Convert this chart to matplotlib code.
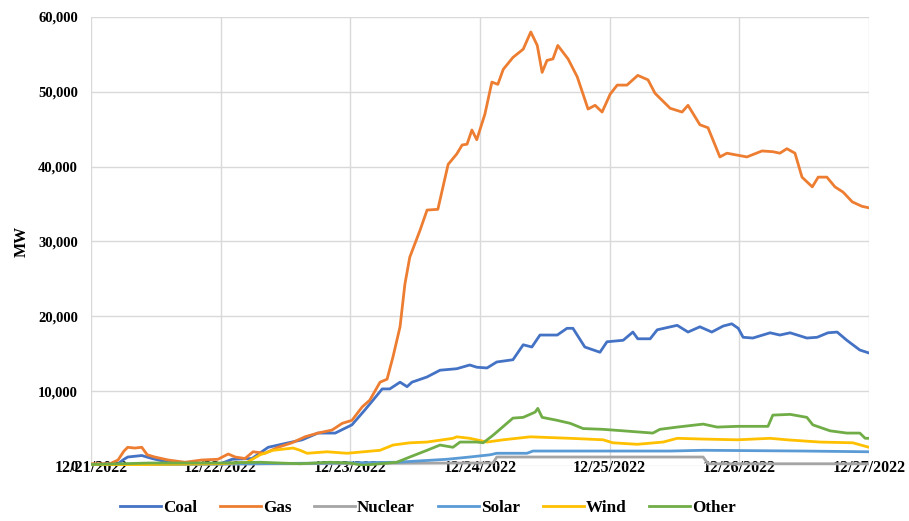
import matplotlib
matplotlib.use("Agg")
import matplotlib.pyplot as plt
from matplotlib.ticker import FuncFormatter

plt.rcParams['font.family'] = ['Liberation Serif', 'DejaVu Serif']

# hours since 12/21/2022 00:00
gas_h = [0, 3.5, 5.0, 6.1, 6.8, 8.1, 9.4, 10.4, 11.8, 14.3, 17.4, 20.5, 23.5, 25.4, 26.7, 28.5,
         30.0, 32.2, 34.6, 37.2, 39.6, 42.0, 44.6, 46.5, 48.3, 50.2, 51.6, 53.5, 54.8, 55.9,
         57.2, 58.1, 59.0, 60.9, 62.2, 64.2, 66.1, 67.7, 68.7, 69.6, 70.5, 71.4, 72.9, 74.2,
         75.3, 76.3, 78.1, 80.0, 81.4, 82.6, 83.5, 84.4, 85.5, 86.4, 88.3, 90.0, 92.0, 93.3,
         94.6, 96.1, 97.4, 99.2, 101.2, 103.1, 104.4, 107.2, 109.4, 110.5, 112.7, 114.2, 116.4,
         117.7, 121.4, 124.2, 126.2, 127.5, 128.8, 130.3, 131.6, 133.5, 134.6, 136.2, 137.7,
         139.2, 140.9, 142.7, 144]
gas = [300, 300, 800, 2000, 2500, 2400, 2500, 1500, 1200, 800, 500, 800, 900, 1600, 1200, 1000,
       1900, 1700, 2500, 3100, 3900, 4400, 4800, 5700, 6100, 7900, 8800, 11200, 11600, 14600,
       18600, 24300, 27900, 31500, 34200, 34300, 40300, 41700, 42900, 43000, 44900, 43600, 47000, 51300,
       51000, 53000, 54600, 55700, 58000, 56200, 52600, 54200, 54400, 56200, 54400, 52000, 47700, 48200,
       47300, 49700, 50900, 50900, 52200, 51600, 49800, 47800, 47300, 48200, 45600, 45200, 41300,
       41800, 41300, 42100, 42000, 41800, 42400, 41800, 38600, 37300, 38600, 38600, 37300,
       36600, 35300, 34700, 34500]

coal_h = [0, 5.0, 6.1, 6.8, 9.4, 11.3, 14.3, 17.4, 24, 26.1, 29.8, 32.8, 35.9, 39.1, 42.0, 45.2,
          48.3, 50.7, 52.2, 53.9, 55.3, 57.2, 58.5, 59.4, 62.2, 64.6, 67.7, 70.1, 71.4, 73.3,
          75.1, 78.1, 80.0, 81.6, 83.1, 86.3, 88.1, 89.2, 91.4, 94.2, 95.5, 98.5, 100.3, 101.2,
          103.5, 104.8, 108.5, 110.5, 112.7, 114.9, 117.0, 118.6, 119.8, 120.7, 122.5, 125.7,
          127.5, 129.4, 132.5, 134.4, 136.4, 138.1, 139.9, 142.3, 144]
coal = [200, 300, 900, 1200, 1400, 1000, 500, 300, 300, 900, 1000, 2500, 3000, 3500, 4400, 4400,
        5500, 7500, 8800, 10300, 10300, 11200, 10600, 11200, 11900, 12800, 13000, 13500, 13200, 13100,
        13900, 14200, 16200, 15900, 17500, 17500, 18400, 18400, 15900, 15200, 16600, 16800, 17900, 17000,
        17000, 18200, 18800, 17900, 18600, 17900, 18700, 19000, 18400, 17200, 17100, 17800,
        17500, 17800, 17100, 17200, 17800, 17900, 16800, 15500, 15100]

nuclear_h = [0, 70.1, 74.4, 75.1, 113.3, 114.2, 144]
nuclear = [200, 400, 400, 1200, 1200, 300, 300]

solar_h = [0, 44.2, 56.6, 65.9, 70.1, 73.9, 75.1, 80.7, 81.8, 107.2, 113.3, 131.8, 144]
solar = [100, 400, 500, 900, 1200, 1500, 1700, 1700, 2000, 2000, 2100, 2000, 1900]

wind_h = [0, 3.5, 10.9, 24, 28.9, 31.3, 33.7, 37.4, 38.7, 40.0, 43.7, 47.4, 53.5, 55.9, 59.0,
          62.2, 67.0, 67.7, 70.1, 73.3, 76.3, 81.3, 88.7, 94.8, 96.6, 101.1, 105.9, 108.5,
          113.3, 119.6, 125.7, 128.8, 134.9, 141.0, 144]
wind = [0, 100, 200, 300, 500, 1500, 2100, 2400, 2100, 1700, 1900, 1700, 2100, 2800, 3100,
        3200, 3700, 3900, 3700, 3200, 3500, 3900, 3700, 3500, 3100, 2900, 3200, 3700,
        3600, 3500, 3700, 3500, 3200, 3100, 2500]

other_h = [0, 10.9, 24, 31.3, 38.7, 44.2, 47.9, 50.3, 56.6, 59.0, 62.2, 64.6, 67.0, 68.3, 71.4,
           72.6, 74.4, 78.1, 80.0, 82.2, 82.7, 83.5, 86.3, 88.7, 91.1, 94.8, 98.5, 104.0, 105.3,
           108.5, 113.3, 115.9, 119.6, 125.3, 126.2, 129.4, 132.5, 133.6, 136.8, 139.9, 142.3,
           143.3, 144]
other = [200, 400, 400, 500, 300, 500, 400, 100, 500, 1200, 2100, 2800, 2500, 3200, 3200,
         3100, 4100, 6400, 6500, 7200, 7700, 6500, 6100, 5700, 5000, 4900, 4700, 4400, 4900,
         5200, 5600, 5200, 5300, 5300, 6800, 6900, 6500, 5500, 4700, 4400, 4400,
         3700, 3700]

tick_labels = ['12/21/2022', '12/22/2022', '12/23/2022', '12/24/2022',
               '12/25/2022', '12/26/2022', '12/27/2022']

series = [
    ('Coal', coal_h, coal, '#4472C4'),
    ('Gas', gas_h, gas, '#ED7D31'),
    ('Nuclear', nuclear_h, nuclear, '#A5A5A5'),
    ('Solar', solar_h, solar, '#5B9BD5'),
    ('Wind', wind_h, wind, '#FFC000'),
    ('Other', other_h, other, '#70AD47'),
]

fig = plt.figure(figsize=(9.09, 5.21), dpi=100)
ax = fig.add_axes([91/909, 1-466/521, (869-91)/909, (466-17)/521])

for name, h, v, c in series:
    ax.plot(h, v, color=c, lw=2.0, label=name, solid_joinstyle='round')

ax.set_xlim(0, 144)
ax.set_ylim(0, 60000)
ax.set_xticks([24*i for i in range(len(tick_labels))])
ax.set_xticklabels(tick_labels)
ax.set_yticks(range(0, 60001, 10000))
ax.yaxis.set_major_formatter(FuncFormatter(lambda v, p: f'{int(v):,}'))
ax.grid(True, color='#d9d9d9', lw=1.0)
ax.set_axisbelow(True)
for s in ax.spines.values():
    s.set_visible(False)
ax.tick_params(axis='both', length=0)
ax.tick_params(axis='x', labelsize=11.5, pad=-4)
ax.tick_params(axis='y', labelsize=10.5, pad=9.5)
for lab in ax.get_xticklabels() + ax.get_yticklabels():
    lab.set_fontweight('bold')
ax.set_ylabel('MW', fontsize=11.5, fontweight='bold', labelpad=6)

fig.legend(loc='center', bbox_to_anchor=(428/909, 1-508/521), ncol=6, frameon=False,
           prop={'size': 12.3, 'weight': 'bold'}, handlelength=2.4, handletextpad=0.1,
           columnspacing=1.35)

fig.savefig('out.png', dpi=100)
